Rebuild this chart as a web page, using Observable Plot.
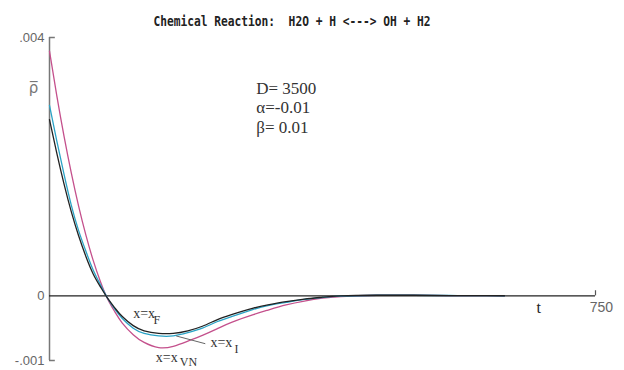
<!DOCTYPE html>
<html><head><meta charset="utf-8">
<script src="https://cdn.jsdelivr.net/npm/d3@7"></script>
<script src="https://cdn.jsdelivr.net/npm/@observablehq/plot@0.6"></script>
<style>body{margin:0;background:#fff}</style>
</head><body><div id="chart"></div>
<script>
// time grid
const tValues = [0,10,20,30,40,50,60,70,80,90,100,115,130,150,170,190,210,230,250,280,300,325,350,375,400,450,500,550,600,625];
// rho-bar values, in units of 0.001
const rhoVN = [3.79,3.10,2.47,1.90,1.39,0.94,0.55,0.22,-0.05,-0.25,-0.42,-0.60,-0.72,-0.80,-0.78,-0.70,-0.61,-0.51,-0.41,-0.29,-0.22,-0.14,-0.08,-0.035,-0.01,0.01,0.012,0.005,0.004,0.002];
const rhoI  = [2.95,2.40,1.88,1.40,1.01,0.69,0.40,0.17,-0.04,-0.21,-0.35,-0.50,-0.58,-0.62,-0.62,-0.57,-0.50,-0.40,-0.32,-0.21,-0.15,-0.10,-0.055,-0.025,-0.005,0.01,0.01,0.006,0.003,0.002];
const rhoF  = [2.73,2.21,1.73,1.30,0.93,0.61,0.34,0.14,-0.04,-0.19,-0.32,-0.46,-0.54,-0.58,-0.58,-0.54,-0.47,-0.37,-0.29,-0.19,-0.14,-0.09,-0.05,-0.02,0.0,0.01,0.01,0.005,0.003,0.002];
const seriesNames = ["VN","I","F"];
const seriesColors = ["#c4508c","#2aa3c6","#222222"];
const yTicks = [-1, 0, 4];
const yTickLabels = ["-.001","0",".004"];
const xTicks = [750];
const xTickLabels = ["750"];
const title = "Chemical Reaction:  H2O + H <---> OH + H2";
const params = ["D= 3500","α=-0.01","β= 0.01"];
const curveLabels = [
  {main:"x=x", sub:"F",  t:115, v:-0.27, st:143, sv:-0.37},
  {main:"x=x", sub:"I",  t:221, v:-0.72, st:254, sv:-0.83},
  {main:"x=x", sub:"VN", t:146, v:-0.95, st:179, sv:-1.03}
];
const leader = [{t1:174, v1:-0.62, t2:214, v2:-0.74}];

const rows = [];
[rhoVN, rhoI, rhoF].forEach((arr, k) => arr.forEach((v, i) => rows.push({series: seriesNames[k], t: tValues[i], v})));

const plot = Plot.plot({
  width: 624, height: 370,
  marginLeft: 49, marginRight: 29, marginTop: 37, marginBottom: 10,
  x: {domain: [0, 750], axis: null},
  y: {domain: [-1, 4], axis: null},
  color: {domain: seriesNames, range: seriesColors},
  style: {background: "#fff", fontFamily: "Liberation Sans"},
  marks: [
    Plot.ruleX([0], {y1: -1, y2: 4, stroke: "#777", strokeWidth: 1.5}),
    Plot.ruleY([-1, 4], {x1: 0, x2: 8, stroke: "#777", strokeWidth: 1.5}),
    Plot.axisY({ticks: yTicks, tickSize: 0, tickPadding: 5, tickFormat: d => yTickLabels[yTicks.indexOf(d)], fontSize: 13, color: "#666"}),
    Plot.ruleY([0], {x1: 0, x2: 750, stroke: "#222", strokeWidth: 1.2}),
    Plot.ruleX(xTicks, {y1: 0, y2: 0.08, stroke: "#555", strokeWidth: 1.2}),
    Plot.text(xTicks, {x: d => d + 8, y: -0.18, text: (d, i) => xTickLabels[i], fontSize: 14, fill: "#666"}),
    Plot.text(["t"], {x: 672, y: -0.18, fontSize: 16, fontFamily: "Liberation Serif", fill: "#222"}),
    Plot.text(["ρ̅"], {x: -22, y: 3.22, fontSize: 15, fontFamily: "DejaVu Sans", fill: "#777"}),
    Plot.line(rows, {x: "t", y: "v", z: "series", stroke: "series", curve: "natural", strokeWidth: 1.3}),
    Plot.link(leader, {x1: "t1", y1: "v1", x2: "t2", y2: "v2", stroke: "#666", strokeWidth: 1}),
    Plot.text(curveLabels, {x: "t", y: "v", text: "main", textAnchor: "start", fontSize: 14, fontFamily: "Liberation Serif", fill: "#333"}),
    Plot.text(curveLabels, {x: "st", y: "sv", text: "sub", textAnchor: "start", fontSize: 12, fontFamily: "Liberation Serif", fill: "#333"}),
    Plot.text(params, {x: 284, y: (d, i) => 3.21 - i * 0.3, text: d => d, textAnchor: "start", fontSize: 17, fontFamily: "Liberation Serif", fill: "#333"}),
    Plot.text([title], {frameAnchor: "top-left", dx: 104, dy: -21, textAnchor: "start", fontSize: 14, fontWeight: "bold", fontFamily: "DejaVu Sans Mono", fill: "#222"})
  ]
});
document.getElementById("chart").append(plot);
plot.querySelectorAll("text").forEach(el => {
  if (el.textContent === title) {
    el.setAttribute("textLength", 277);
    el.setAttribute("lengthAdjust", "spacingAndGlyphs");
  }
});
</script>
</body></html>
